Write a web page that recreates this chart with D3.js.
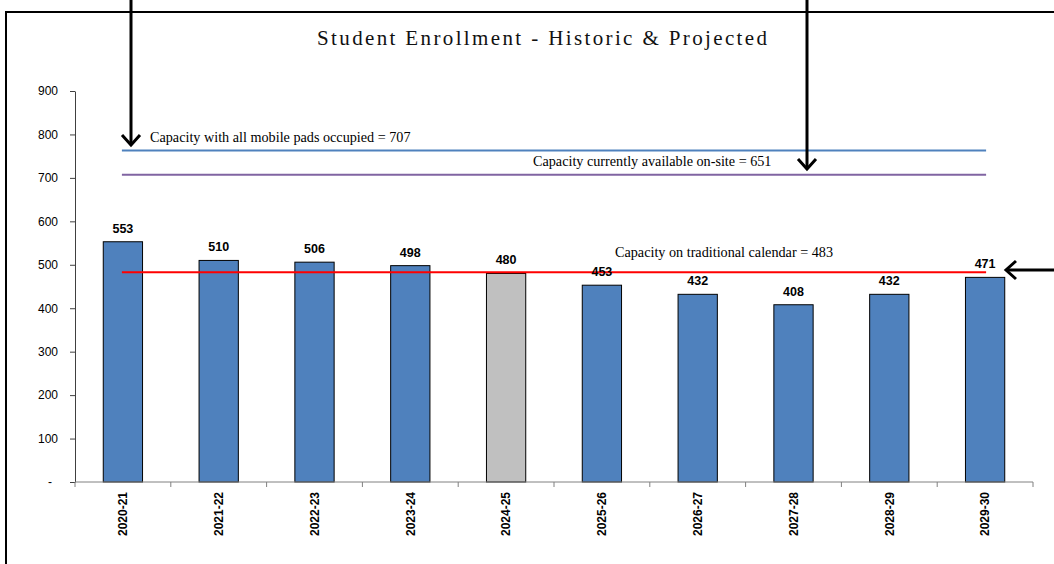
<!DOCTYPE html>
<html>
<head>
<meta charset="utf-8">
<script src="https://cdn.jsdelivr.net/npm/d3@7"></script>
<style>
  html, body { margin: 0; padding: 0; background: #fff; }
  svg { display: block; }
</style>
</head>
<body>
<svg id="chart" width="1054" height="564"></svg>
<script>
// Enrollment by school year (historic through 2024-25, projected afterwards)
const years = ["2020-21", "2021-22", "2022-23", "2023-24", "2024-25",
               "2025-26", "2026-27", "2027-28", "2028-29", "2029-30"];
const enrollment = [553, 510, 506, 498, 480, 453, 432, 408, 432, 471];
const currentYear = "2024-25";

// Capacity reference lines
const capacityValues = [763, 707, 483];
const capacityLabels = [
  "Capacity with all mobile pads occupied = 707",
  "Capacity currently available on-site = 651",
  "Capacity on traditional calendar = 483"
];
const capacityColors = ["#4f81bd", "#8064a2", "#ff0000"];

const yTicks = [0, 100, 200, 300, 400, 500, 600, 700, 800, 900];

const svg = d3.select("#chart");

const plot = { left: 75, right: 1033, top: 91, bottom: 482 };

const x = d3.scaleBand()
  .domain(years)
  .range([plot.left, plot.right])
  .paddingInner(0.59)
  .paddingOuter(0.295);

const y = d3.scaleLinear()
  .domain([0, 900])
  .range([plot.bottom, plot.top]);

const center = d => x(d) + x.bandwidth() / 2;

// Outer frame (left and top edges)
svg.append("path")
  .attr("d", "M6,564 L6,12 L1054,12")
  .attr("fill", "none")
  .attr("stroke", "#000")
  .attr("stroke-width", 2);

// Title
svg.append("text")
  .attr("x", 542)
  .attr("y", 45)
  .attr("text-anchor", "middle")
  .attr("font-family", "'Liberation Serif', 'DejaVu Serif', serif")
  .attr("font-size", 21)
  .attr("textLength", 450)
  .attr("lengthAdjust", "spacing")
  .attr("fill", "#111")
  .text("Student Enrollment - Historic & Projected");

// Y axis
const yAxis = svg.append("g")
  .attr("transform", `translate(${plot.left},0)`)
  .call(d3.axisLeft(y).tickValues(yTicks).tickSize(5).tickSizeOuter(0)
    .tickFormat(d => d === 0 ? "-" : d3.format("d")(d)));
yAxis.select(".domain").attr("stroke", "#404040");
yAxis.selectAll(".tick line").attr("stroke", "#404040");
yAxis.selectAll(".tick text")
  .attr("x", d => d === 0 ? -23 : -17)
  .attr("font-family", "'Liberation Sans', Arial, sans-serif")
  .attr("font-size", 12)
  .attr("fill", "#000");

// Bars
svg.append("g")
  .selectAll("rect")
  .data(years)
  .join("rect")
  .attr("x", d => x(d))
  .attr("y", (d, i) => y(enrollment[i]))
  .attr("width", x.bandwidth())
  .attr("height", (d, i) => y(0) - y(enrollment[i]))
  .attr("fill", d => d === currentYear ? "#c0c0c0" : "#4f81bd")
  .attr("stroke", "#000")
  .attr("stroke-width", 1);

// X axis line with boundary ticks between categories
const xAxis = svg.append("g").attr("stroke", "#808080");
xAxis.append("line")
  .attr("x1", plot.left).attr("x2", plot.right)
  .attr("y1", plot.bottom).attr("y2", plot.bottom);
const boundaries = years.map(d => x(d) - x.step() * x.paddingInner() / 2)
  .concat([plot.right]);
xAxis.selectAll("line.tick")
  .data(boundaries)
  .join("line")
  .attr("class", "tick")
  .attr("x1", d => d).attr("x2", d => d)
  .attr("y1", plot.bottom).attr("y2", plot.bottom + 5);

// Category labels, rotated
svg.append("g")
  .selectAll("text")
  .data(years)
  .join("text")
  .attr("transform", d => `translate(${center(d)},${plot.bottom + 10}) rotate(-90)`)
  .attr("text-anchor", "end")
  .attr("dy", "0.35em")
  .attr("font-family", "'Liberation Sans', Arial, sans-serif")
  .attr("font-weight", "bold")
  .attr("font-size", 12)
  .attr("fill", "#000")
  .text(d => d);

// Capacity lines spanning first to last category
const first = center(years[0]);
const last = center(years[years.length - 1]);
svg.append("g")
  .selectAll("line")
  .data(capacityValues)
  .join("line")
  .attr("x1", first - 1).attr("x2", last + 1)
  .attr("y1", d => y(d)).attr("y2", d => y(d))
  .attr("stroke", (d, i) => capacityColors[i])
  .attr("stroke-width", 2);

// Capacity annotations
const labelPos = [
  { x: 150, y: 142 },
  { x: 533, y: 166 },
  { x: 615, y: 257 }
];
svg.append("g")
  .selectAll("text")
  .data(capacityLabels)
  .join("text")
  .attr("x", (d, i) => labelPos[i].x)
  .attr("y", (d, i) => labelPos[i].y)
  .attr("font-family", "'Liberation Serif', 'DejaVu Serif', serif")
  .attr("font-size", 14.2)
  .attr("fill", "#000")
  .text(d => d);

// Value labels above bars
svg.append("g")
  .selectAll("text")
  .data(years)
  .join("text")
  .attr("x", d => center(d))
  .attr("y", (d, i) => y(enrollment[i]) - 9)
  .attr("text-anchor", "middle")
  .attr("font-family", "'Liberation Sans', Arial, sans-serif")
  .attr("font-weight", "bold")
  .attr("font-size", 12.5)
  .attr("fill", "#000")
  .text((d, i) => enrollment[i]);

// Pointer arrows
const arrows = svg.append("g")
  .attr("fill", "none")
  .attr("stroke", "#000")
  .attr("stroke-width", 3);
// vertical arrow to the top capacity line
arrows.append("path").attr("d", "M131,0 L131,145");
arrows.append("path").attr("d", "M122,135 L131,145 L140,135");
// vertical arrow to the on-site capacity line
arrows.append("path").attr("d", "M807,0 L807,169");
arrows.append("path").attr("d", "M798,159 L807,169 L816,159");
// horizontal arrow to the traditional calendar line
arrows.append("path").attr("d", "M1054,270 L1006,270");
arrows.append("path").attr("d", "M1016,261 L1006,270 L1016,279");
</script>
</body>
</html>
